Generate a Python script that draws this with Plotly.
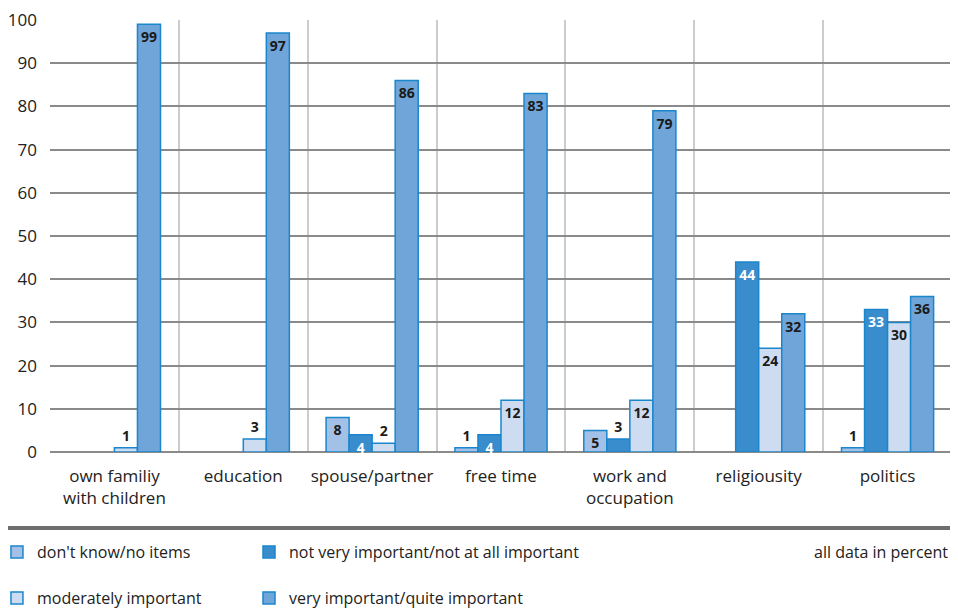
import plotly.graph_objects as go

categories = ["own familiy<br>with children", "education", "spouse/partner", "free time",
              "work and<br>occupation", "religiousity", "politics"]
dont_know = [None, None, 8, 1, 5, None, 1]
not_very = [None, None, 4, 4, 3, 44, 33]
moderately = [1, 3, 2, 12, 12, 24, 30]
very = [99, 97, 86, 83, 79, 32, 36]

FONT = "Open Sans"
TXT = "#222222"

series = [
    ("don't know/no items", dont_know, "#a3c1e6", "legend", "#1a1a1a"),
    ("not very important/not at all important", not_very, "#3a8dcd", "legend2", "#ffffff"),
    ("moderately important", moderately, "#cddcf1", "legend3", "#1a1a1a"),
    ("very important/quite important", very, "#6fa5d8", "legend4", "#1a1a1a"),
]

fig = go.Figure()
for name, vals, color, leg, incol in series:
    texts = [None if v is None else str(v) for v in vals]
    pos = ["inside" if (v is not None and v >= 4) else "outside" for v in vals]
    fig.add_trace(go.Bar(
        name=name, x=categories, y=vals, text=texts, textposition=pos, textangle=0,
        insidetextanchor="end", constraintext="none", cliponaxis=False,
        marker=dict(color=color, line=dict(color="#1a86cc", width=1.5)),
        insidetextfont=dict(color=incol, size=14, family=FONT, weight="bold"),
        outsidetextfont=dict(color="#1a1a1a", size=14, family=FONT, weight="bold"),
        legend=leg, hoverinfo="skip",
    ))

# The page adds an 8px body margin; plot area in page pixels: x 50..952, y 20..452
W, H = 950, 608
def px_y(py):
    return -(py - 452) / 432.0

col1_x = -0.0588
col2_x = (249 - 50) / 902.0
row1_y = px_y(552)
row2_y = px_y(598)

def leg(x, y):
    return dict(orientation="h", x=x, xanchor="left", y=y, yanchor="middle",
                font=dict(size=16, color=TXT, family=FONT), bgcolor="rgba(0,0,0,0)",
                itemclick=False, itemdoubleclick=False)

fig.update_layout(
    width=W, height=H,
    margin=dict(l=42, r=6, t=12, b=164, autoexpand=False),
    paper_bgcolor="white", plot_bgcolor="white",
    barmode="group", bargap=0.285, bargroupgap=0,
    font=dict(family=FONT, size=16, color=TXT),
    showlegend=True,
    legend=leg(col1_x, row1_y),
    legend2=leg(col2_x, row1_y),
    legend3=leg(col1_x, row2_y),
    legend4=leg(col2_x, row2_y),
    xaxis=dict(type="category", tickson="boundaries", showgrid=True, gridcolor="#cccccc",
               gridwidth=2, ticks="", tickangle=0, tickfont=dict(size=17, color=TXT),
               ticklabelstandoff=12, showline=False, zeroline=False, fixedrange=True),
    yaxis=dict(range=[0, 100], dtick=10, showgrid=True, gridcolor="#8a8a8a", gridwidth=2,
               zeroline=True, zerolinecolor="#8a8a8a", zerolinewidth=2,
               tickfont=dict(size=17, color=TXT), ticks="", ticklabelstandoff=12,
               ticklabeloverflow="allow", fixedrange=True),
    shapes=[dict(type="line", xref="paper", yref="paper", x0=-0.047, x1=1,
                 y0=px_y(528), y1=px_y(528), line=dict(color="#6e6e6e", width=4))],
    annotations=[dict(text="all data in percent", xref="paper", yref="paper", x=0.998,
                      xanchor="right", y=row1_y, yanchor="middle", showarrow=False,
                      font=dict(size=16, color=TXT, family=FONT))],
)

fig.write_html("out.html")
